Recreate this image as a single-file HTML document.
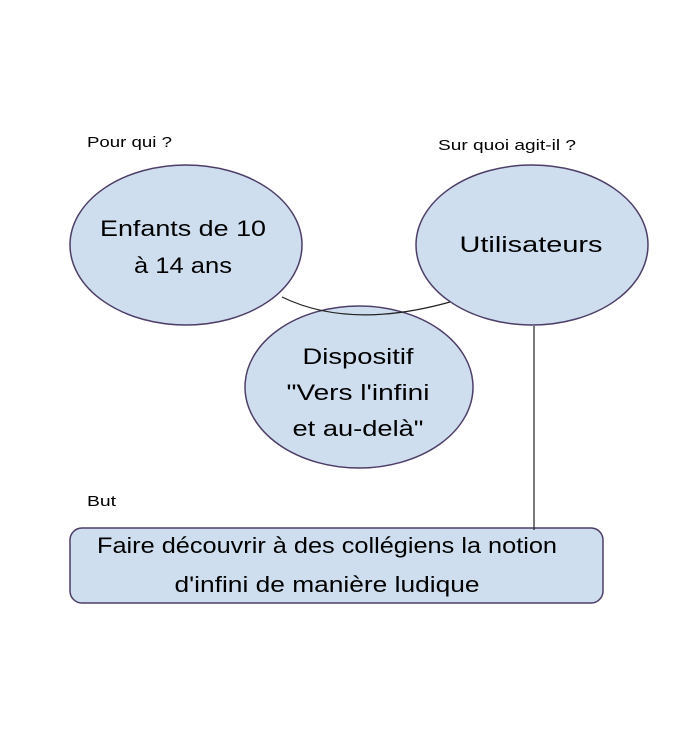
<!DOCTYPE html>
<html><head><meta charset="utf-8"><style>html,body{margin:0;padding:0;background:#fff}svg{display:block}</style></head>
<body>
<svg width="700" height="730" viewBox="0 0 700 730" xmlns="http://www.w3.org/2000/svg" font-family="Liberation Sans, sans-serif" fill="#000">
<rect width="700" height="730" fill="#fff"/>
<g fill="#cfdeee" stroke="#4d3e67" stroke-width="1.5">
<ellipse cx="186" cy="245" rx="116" ry="80"/>
<ellipse cx="532" cy="245" rx="116" ry="80"/>
<ellipse cx="359" cy="387" rx="114" ry="81"/>
<rect x="70" y="528" width="533" height="75" rx="12"/>
</g>
<path d="M282 297 Q350 330 450 302" fill="none" stroke="#222" stroke-width="1.2"/>
<line x1="534" y1="326" x2="534" y2="530" stroke="#222" stroke-width="1.2"/>
<g font-size="15">
<text x="87" y="147" textLength="85" lengthAdjust="spacingAndGlyphs">Pour qui ?</text>
<text x="438" y="150" textLength="138" lengthAdjust="spacingAndGlyphs">Sur quoi agit-il ?</text>
<text x="87" y="506" textLength="29" lengthAdjust="spacingAndGlyphs">But</text>
</g>
<g font-size="22" text-anchor="middle">
<text x="183" y="236" textLength="166" lengthAdjust="spacingAndGlyphs">Enfants de 10</text>
<text x="183" y="273" textLength="98" lengthAdjust="spacingAndGlyphs">à 14 ans</text>
<text x="531" y="252" textLength="143" lengthAdjust="spacingAndGlyphs">Utilisateurs</text>
<text x="358" y="364" textLength="111" lengthAdjust="spacingAndGlyphs">Dispositif</text>
<text x="358" y="400" textLength="143" lengthAdjust="spacingAndGlyphs">"Vers l'infini</text>
<text x="358" y="436" textLength="131" lengthAdjust="spacingAndGlyphs">et au-delà"</text>
<text x="327" y="553" textLength="460" lengthAdjust="spacingAndGlyphs">Faire découvrir à des collégiens la notion</text>
<text x="327" y="592" textLength="305" lengthAdjust="spacingAndGlyphs">d'infini de manière ludique</text>
</g>
</svg>
</body></html>
